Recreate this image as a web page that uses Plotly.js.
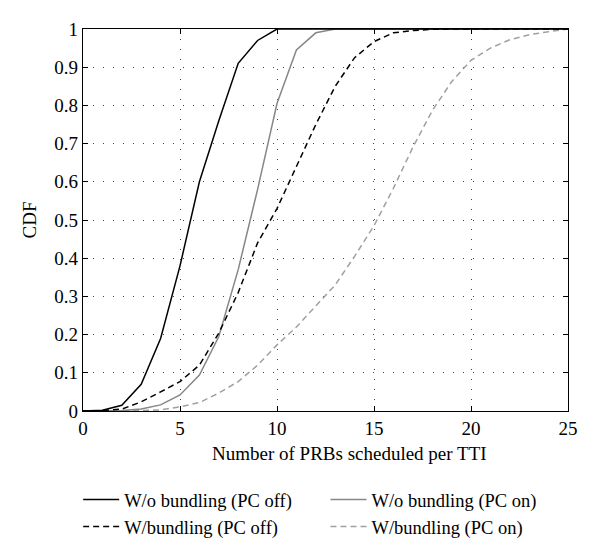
<!DOCTYPE html>
<html>
<head>
<meta charset="utf-8">
<script src="https://cdn.plot.ly/plotly-3.0.1.min.js"></script>
<style>
  body { margin: 0; background: #fff; }
  #graph { width: 600px; height: 556px; }
</style>
</head>
<body>
<div id="graph"></div>
<script>
// PRBs per TTI (x) and CDF values
const prbs = [0, 1, 2, 3, 4, 5, 6, 7, 8, 9, 10, 11, 12, 13, 14, 15, 16, 17, 18, 19, 20, 21, 22, 23, 24, 25];

const woBundlingPcOff = [0, 0.002, 0.015, 0.07, 0.19, 0.38, 0.6, 0.76, 0.91, 0.97, 1, 1, 1, 1, 1, 1, 1, 1, 1, 1, 1, 1, 1, 1, 1, 1];
const wBundlingPcOff  = [0, 0.001, 0.005, 0.024, 0.05, 0.077, 0.12, 0.204, 0.31, 0.44, 0.53, 0.64, 0.75, 0.85, 0.925, 0.967, 0.99, 0.996, 0.999, 1, 1, 1, 1, 1, 1, 1];
const woBundlingPcOn  = [0, 0, 0.001, 0.005, 0.016, 0.042, 0.094, 0.195, 0.37, 0.58, 0.805, 0.945, 0.99, 1, 1, 1, 1, 1, 1, 1, 1, 1, 1, 1, 1, 1];
const wBundlingPcOn   = [0, 0, 0, 0.001, 0.003, 0.011, 0.022, 0.047, 0.077, 0.12, 0.173, 0.22, 0.275, 0.33, 0.405, 0.485, 0.583, 0.69, 0.786, 0.862, 0.918, 0.95, 0.972, 0.985, 0.993, 1];

const seriesNames = [
  'W/o bundling (PC off)',
  'W/bundling (PC off)',
  'W/o bundling (PC on)',
  'W/bundling (PC on)'
];

const yTicks = [0, 0.1, 0.2, 0.3, 0.4, 0.5, 0.6, 0.7, 0.8, 0.9, 1];
const yTickText = ['0', '0.1', '0.2', '0.3', '0.4', '0.5', '0.6', '0.7', '0.8', '0.9', '1'];
const xTicks = [0, 5, 10, 15, 20, 25];

const font = 'Liberation Serif, DejaVu Serif, serif';

function trace(y, name, color, dash, legend) {
  return {
    x: prbs,
    y: y,
    name: name,
    type: 'scatter',
    mode: 'lines',
    line: { color: color, width: 1.5, dash: dash },
    legend: legend
  };
}

const data = [
  trace(wBundlingPcOn, seriesNames[3], '#a0a0a0', '6px,4px', 'legend2'),
  trace(woBundlingPcOn, seriesNames[2], '#878787', 'solid', 'legend2'),
  trace(wBundlingPcOff, seriesNames[1], '#000000', '6px,4px', 'legend'),
  trace(woBundlingPcOff, seriesNames[0], '#000000', 'solid', 'legend')
];

const axisCommon = {
  showline: true,
  mirror: 'ticks',
  linecolor: '#000',
  linewidth: 1.2,
  ticks: 'inside',
  ticklen: 5,
  tickcolor: '#000',
  showgrid: true,
  gridcolor: '#444',
  griddash: '1px,9px',
  gridwidth: 1,
  zeroline: false,
  automargin: false,
  tickfont: { family: font, size: 19, color: '#000' }
};

const legendCommon = {
  xanchor: 'left', yanchor: 'top',
  orientation: 'v', traceorder: 'reversed',
  bgcolor: 'rgba(0,0,0,0)',
  font: { family: font, size: 18.5, color: '#000' },
  tracegroupgap: 0,
  itemwidth: 36
};

// legend tops sit at y = 481px, plot spans 29..411px
const legendY = (411 - 481) / 382;

const layout = {
  width: 600,
  height: 556,
  margin: { l: 83, r: 32, t: 29, b: 145, autoexpand: false },
  paper_bgcolor: '#fff',
  plot_bgcolor: '#fff',
  font: { family: font, color: '#000' },
  xaxis: Object.assign({}, axisCommon, {
    range: [0, 25],
    tickvals: xTicks
  }),
  yaxis: Object.assign({}, axisCommon, {
    range: [0, 1],
    tickvals: yTicks,
    ticktext: yTickText,
    title: { text: 'CDF', font: { family: font, size: 19 }, standoff: 12 }
  }),
  annotations: [{
    text: 'Number of PRBs scheduled per TTI',
    xref: 'paper', yref: 'paper',
    x: 0.55, y: -0.11,
    xanchor: 'center', yanchor: 'middle',
    showarrow: false,
    font: { family: font, size: 19, color: '#000' }
  }],
  legend: Object.assign({}, legendCommon, { x: -0.01, y: legendY }),
  legend2: Object.assign({}, legendCommon, { x: 0.5, y: legendY }),
  showlegend: true
};

Plotly.newPlot('graph', data, layout, { displayModeBar: false, staticPlot: true });
</script>
</body>
</html>
